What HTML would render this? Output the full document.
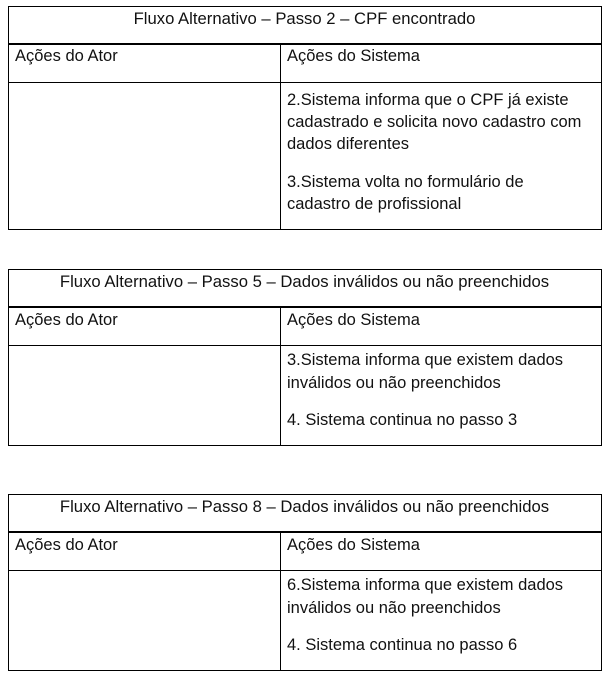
<!DOCTYPE html>
<html><head><meta charset="utf-8"><style>
body{margin:0;width:610px;height:678px;background:#fff;position:relative;font-family:"Liberation Sans",sans-serif;color:#111;overflow:hidden}
.l{position:absolute;background:#000}
.t{position:absolute;font-size:16.5px;line-height:20px;white-space:nowrap;transform:scaleX(1.0);transform-origin:left center}
.c{position:absolute;left:8px;width:593px;text-align:center;font-size:16.5px;line-height:20px;white-space:nowrap;transform:scaleX(1.01);transform-origin:center}
</style></head><body>
<!-- table 1 -->
<div class="l" style="left:8px;top:6px;width:594px;height:1px"></div>
<div class="l" style="left:8px;top:43px;width:594px;height:2px"></div>
<div class="l" style="left:8px;top:82px;width:594px;height:1px"></div>
<div class="l" style="left:8px;top:229px;width:594px;height:1px"></div>
<div class="l" style="left:8px;top:6px;width:1px;height:224px"></div>
<div class="l" style="left:601px;top:6px;width:1px;height:224px"></div>
<div class="l" style="left:280px;top:44px;width:1px;height:186px"></div>
<div class="c" style="top:9px">Fluxo Alternativo – Passo 2 – CPF encontrado</div>
<div class="t" style="left:15px;top:46px">Ações do Ator</div>
<div class="t" style="left:287px;top:46px">Ações do Sistema</div>
<div class="t" style="left:287px;top:90px">2.Sistema informa que o CPF já existe</div>
<div class="t" style="left:287px;top:112px">cadastrado e solicita novo cadastro com</div>
<div class="t" style="left:287px;top:134px">dados diferentes</div>
<div class="t" style="left:287px;top:172px">3.Sistema volta no formulário de</div>
<div class="t" style="left:287px;top:194px">cadastro de profissional</div>
<!-- table 2 -->
<div class="l" style="left:8px;top:269px;width:594px;height:1px"></div>
<div class="l" style="left:8px;top:306px;width:594px;height:2px"></div>
<div class="l" style="left:8px;top:345px;width:594px;height:1px"></div>
<div class="l" style="left:8px;top:445px;width:594px;height:1px"></div>
<div class="l" style="left:8px;top:269px;width:1px;height:177px"></div>
<div class="l" style="left:601px;top:269px;width:1px;height:177px"></div>
<div class="l" style="left:280px;top:307px;width:1px;height:139px"></div>
<div class="c" style="top:272px">Fluxo Alternativo – Passo 5 – Dados inválidos ou não preenchidos</div>
<div class="t" style="left:15px;top:310px">Ações do Ator</div>
<div class="t" style="left:287px;top:310px">Ações do Sistema</div>
<div class="t" style="left:287px;top:350px">3.Sistema informa que existem dados</div>
<div class="t" style="left:287px;top:373px">inválidos ou não preenchidos</div>
<div class="t" style="left:287px;top:410px">4. Sistema continua no passo 3</div>
<!-- table 3 -->
<div class="l" style="left:8px;top:494px;width:594px;height:1px"></div>
<div class="l" style="left:8px;top:531px;width:594px;height:2px"></div>
<div class="l" style="left:8px;top:570px;width:594px;height:1px"></div>
<div class="l" style="left:8px;top:670px;width:594px;height:1px"></div>
<div class="l" style="left:8px;top:494px;width:1px;height:177px"></div>
<div class="l" style="left:601px;top:494px;width:1px;height:177px"></div>
<div class="l" style="left:280px;top:532px;width:1px;height:139px"></div>
<div class="c" style="top:497px">Fluxo Alternativo – Passo 8 – Dados inválidos ou não preenchidos</div>
<div class="t" style="left:15px;top:535px">Ações do Ator</div>
<div class="t" style="left:287px;top:535px">Ações do Sistema</div>
<div class="t" style="left:287px;top:575px">6.Sistema informa que existem dados</div>
<div class="t" style="left:287px;top:598px">inválidos ou não preenchidos</div>
<div class="t" style="left:287px;top:635px">4. Sistema continua no passo 6</div>
</body></html>
